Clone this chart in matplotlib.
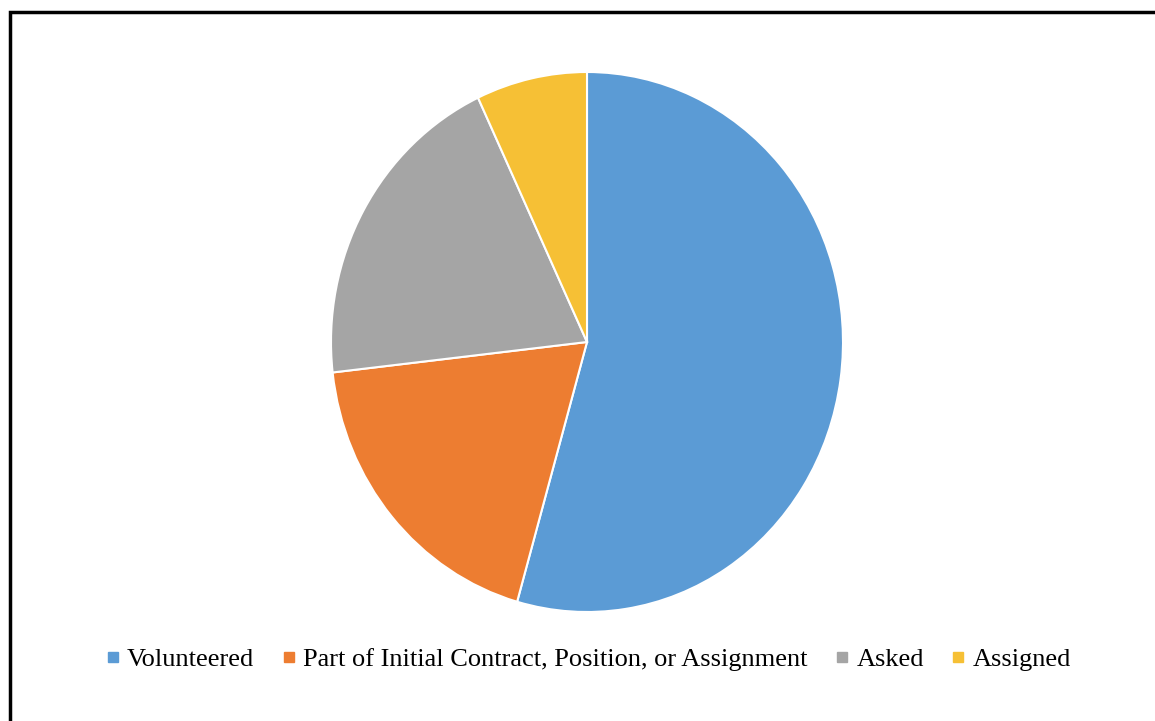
import matplotlib.pyplot as plt
from matplotlib.lines import Line2D
from matplotlib.patches import Rectangle

labels = ['Volunteered', 'Part of Initial Contract, Position, or Assignment', 'Asked', 'Assigned']
shares = [54.4, 18.8, 19.8, 7.0]
colors = ['#5B9BD5', '#ED7D31', '#A5A5A5', '#F6C035']

W, H = 1155, 721
fig = plt.figure(figsize=(W / 100, H / 100), dpi=100)
plt.rcParams['font.family'] = ['Liberation Serif', 'DejaVu Serif']

# pie axes placed in pixel terms (slightly squashed horizontally like the source)
ax = fig.add_axes([331 / W, (H - 612) / H, 512 / W, 540 / H])
ax.pie(shares, colors=colors, startangle=90, counterclock=False,
       wedgeprops=dict(edgecolor='white', linewidth=1.5))
ax.set_aspect('auto')
ax.set_xlim(-1, 1)
ax.set_ylim(-1, 1)
ax.axis('off')

# outer frame (only left and top edges fall inside the image)
fig.patches.append(Rectangle((10 / W, -0.1), 1.2, 1 - 12 / H + 0.1,
                             transform=fig.transFigure, fill=False,
                             edgecolor='black', linewidth=2.5))

handles = [Line2D([], [], marker='s', linestyle='', markersize=7.5,
                  markerfacecolor=c, markeredgecolor=c) for c in colors]
fig.legend(handles, labels, loc='center', bbox_to_anchor=(588 / W, 1 - 659 / H),
           ncol=4, frameon=False, fontsize=19, handlelength=0.6,
           handletextpad=0.25, columnspacing=1.0)

fig.savefig('out.png', dpi=100, facecolor='white')
